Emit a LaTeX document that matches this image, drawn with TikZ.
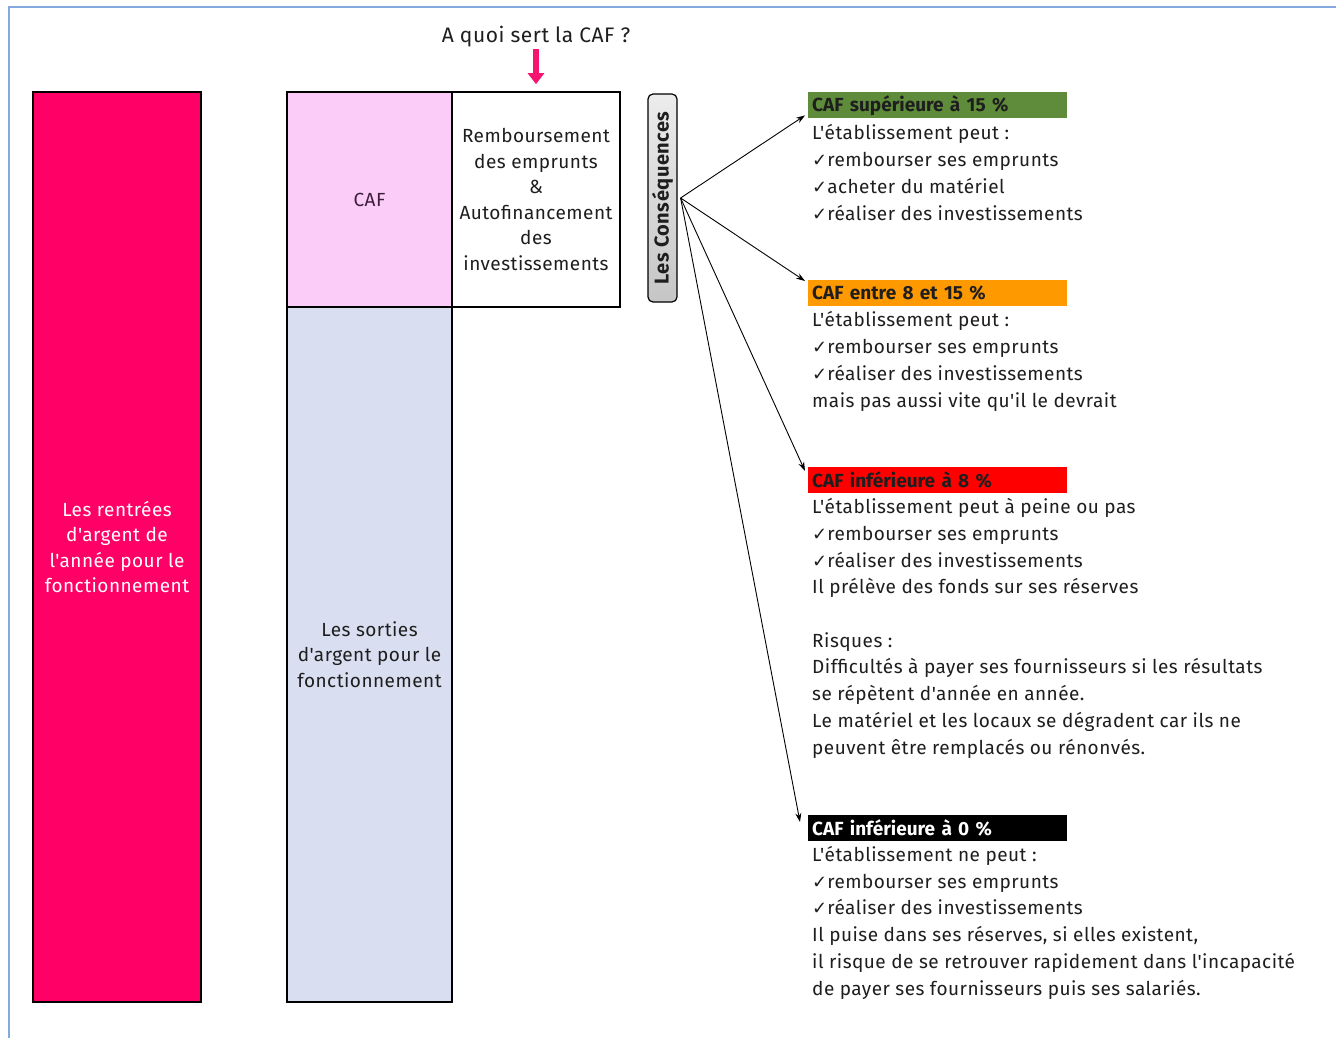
\documentclass[tikz,border=0pt]{standalone}
\usepackage{fontspec}
\setmainfont{Fira Sans}[Ligatures=TeXOff, LetterSpace=2.5]
\newfontfamily\chkfont{DejaVu Sans}
\usetikzlibrary{arrows.meta}
\definecolor{pinkc}{RGB}{255,0,102}
\definecolor{cafpink}{RGB}{251,204,247}
\definecolor{sortblue}{RGB}{217,223,241}
\definecolor{greenc}{RGB}{94,140,58}
\definecolor{orangec}{RGB}{255,153,0}
\definecolor{redc}{RGB}{255,0,0}
\definecolor{framec}{RGB}{130,170,220}
\definecolor{arrowpink}{RGB}{245,20,110}
\definecolor{txtc}{RGB}{30,30,30}
\newcommand\mychk{{\chkfont\fontsize{18}{18}\selectfont ✓}}
\tikzset{
  bar/.style={draw=black, line width=1.6pt, align=center, inner sep=2pt,
    font=\fontsize{19}{25.5}\selectfont},
  txt/.style={anchor=base west, align=left, inner sep=0pt, text=txtc,
    font=\fontsize{19}{26.7}\selectfont},
  hdr/.style={anchor=north west, text width=251pt, minimum height=26pt,
    inner xsep=4pt, inner ysep=0pt, align=left,
    font=\fontsize{19}{20}\selectfont\bfseries\addfontfeature{LetterSpace=0}},
  conn/.style={-{Stealth[length=9pt,width=6pt]}, line width=0.9pt}
}
\begin{document}
\begin{tikzpicture}[x=1pt,y=-1pt]
\useasboundingbox (0,0) rectangle (1336,1038);
\fill[white] (0,0) rectangle (1336,1038);
% frame
\draw[framec, line width=1.5pt] (9,1038) -- (9,7) -- (1336,7);

% left bar
\node[bar, fill=pinkc, text=white, minimum width=168pt, minimum height=910pt]
  (rentrees) at (117,547) {Les rentrées\\d'argent de\\l'année pour le\\fonctionnement};
% CAF
\node[bar, fill=cafpink, text={rgb,255:red,60;green,30;blue,60}, minimum width=165pt, minimum height=215pt]
  (caf) at (369.5,199.5) {CAF};
% remboursement
\node[bar, fill=white, text=txtc, minimum width=168pt, minimum height=215pt]
  (remb) at (536,199.5) {Remboursement\\des emprunts\\\&\\Autofinancement\\des\\investissements};
% sorties
\node[bar, fill=sortblue, text=txtc, minimum width=165pt, minimum height=695pt]
  (sorties) at (369.5,654.5) {Les sorties\\d'argent pour le\\fonctionnement};

% title and arrow
\node[font=\fontsize{21}{24}\selectfont, text=txtc] (title) at (536,37) {A quoi sert la CAF ?};
\draw[arrowpink, line width=6pt, -{Triangle[length=11pt,width=16pt]}, shorten >=7pt, shorten <=-2pt]
  (title.south) -- (remb.north);

% consequences
\node[draw=black, line width=1.2pt, rounded corners=5pt, rotate=90,
  minimum width=208pt, minimum height=29pt, inner sep=0pt,
  top color=gray!15, bottom color=gray!45,
  font=\fontsize{20}{22}\selectfont\bfseries, text=txtc]
  (cons) at (662.5,198) {Les Conséquences};

% headers
\node[hdr, fill=greenc, text=txtc] (h1) at (808,92) {CAF supérieure à 15 \%};
\node[hdr, fill=orangec, text=txtc] (h2) at (808,280) {CAF entre 8 et 15 \%};
\node[hdr, fill=redc, text=txtc] (h3) at (808,467) {CAF inférieure à 8 \%};
\node[hdr, fill=black, text=white] (h4) at (808,815) {CAF inférieure à 0 \%};

% connectors
\coordinate (o) at ([xshift=3pt]cons.south);
\draw[conn] (o) -- ([xshift=-3pt,yshift=3pt]h1.south west);
\draw[conn] (o) -- ([xshift=-3pt,yshift=-1pt]h2.north west);
\draw[conn] (o) -- ([xshift=-3pt,yshift=-4pt]h3.north west);
\draw[conn] (o) -- ([xshift=-8pt,yshift=-7pt]h4.north west);

% text blocks (anchored at the baseline of the last line)
\node[txt] (t1) at (812,220) {L'établissement peut :\\
\mychk rembourser ses emprunts\\
\mychk acheter du matériel\\
\mychk réaliser des investissements};
\node[txt] (t2) at (812,407) {L'établissement peut :\\
\mychk rembourser ses emprunts\\
\mychk réaliser des investissements\\
mais pas aussi vite qu'il le devrait};
\node[txt] (t3) at (812,754) {L'établissement peut à peine ou pas\\
\mychk rembourser ses emprunts\\
\mychk réaliser des investissements\\
Il prélève des fonds sur ses réserves\\[26.7pt]
Risques :\\
Difficultés à payer ses fournisseurs si les résultats\\
se répètent d'année en année.\\
Le matériel et les locaux se dégradent car ils ne\\
peuvent être remplacés ou rénonvés.};
\node[txt] (t4) at (812,995) {L'établissement ne peut :\\
\mychk rembourser ses emprunts\\
\mychk réaliser des investissements\\
Il puise dans ses réserves, si elles existent,\\
il risque de se retrouver rapidement dans l'incapacité\\
de payer ses fournisseurs puis ses salariés.};
\end{tikzpicture}
\end{document}
